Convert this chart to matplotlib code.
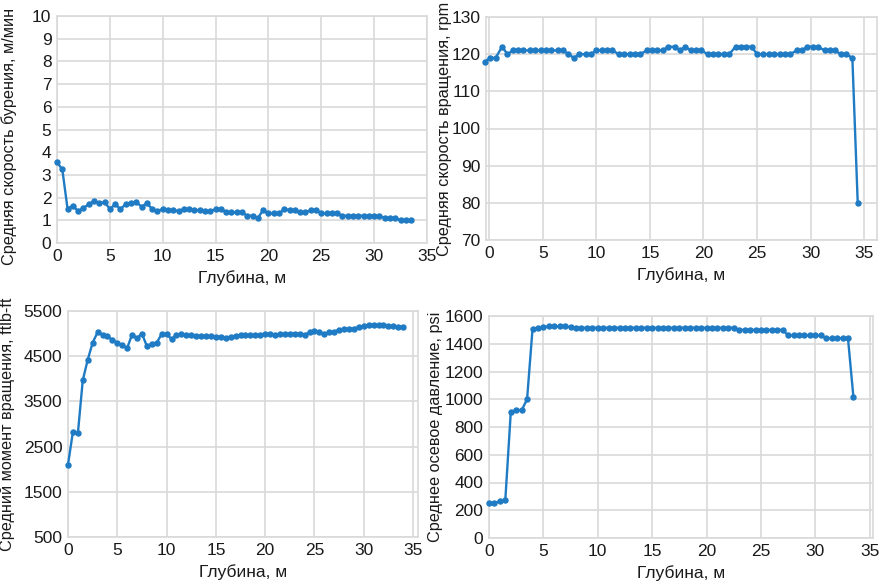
import matplotlib
matplotlib.use('Agg')
import matplotlib.pyplot as plt

plt.rcParams['font.family'] = ['Liberation Sans', 'DejaVu Sans']

# глубина, м
depth = [0.0, 0.5, 1.0, 1.5, 2.0, 2.5, 3.0, 3.5, 4.0, 4.5, 5.0, 5.5, 6.0, 6.5, 7.0, 7.5,
         8.0, 8.5, 9.0, 9.5, 10.0, 10.5, 11.0, 11.5, 12.0, 12.5, 13.0, 13.5, 14.0, 14.5,
         15.0, 15.5, 16.0, 16.5, 17.0, 17.5, 18.0, 18.5, 19.0, 19.5, 20.0, 20.5, 21.0,
         21.5, 22.0, 22.5, 23.0, 23.5, 24.0, 24.5, 25.0, 25.5, 26.0, 26.5, 27.0, 27.5,
         28.0, 28.5, 29.0, 29.5, 30.0, 30.5, 31.0, 31.5, 32.0, 32.5, 33.0, 33.5]
depth_rpm = [-0.4, 0.1, 0.6, 1.2, 1.7, 2.2, 2.7, 3.2, 3.8, 4.3, 4.8, 5.3, 5.8, 6.4, 6.9,
             7.4, 7.9, 8.4, 9.0, 9.5, 10.0, 10.5, 11.0, 11.5, 12.1, 12.6, 13.1, 13.6, 14.1,
             14.7, 15.2, 15.7, 16.2, 16.7, 17.3, 17.8, 18.3, 18.8, 19.3, 19.8, 20.4, 20.9,
             21.4, 21.9, 22.4, 23.0, 23.5, 24.0, 24.5, 25.0, 25.6, 26.1, 26.6, 27.1, 27.6,
             28.1, 28.7, 29.2, 29.7, 30.2, 30.7, 31.3, 31.8, 32.3, 32.8, 33.3, 33.9, 34.4]
depth_tq = depth + [34.0]

rop = [3.55, 3.25, 1.5, 1.65, 1.4, 1.55, 1.7, 1.85, 1.75, 1.8, 1.5, 1.7, 1.5, 1.7, 1.75,
       1.8, 1.6, 1.75, 1.5, 1.4, 1.5, 1.45, 1.45, 1.4, 1.5, 1.5, 1.45, 1.45, 1.4, 1.4,
       1.5, 1.5, 1.35, 1.35, 1.35, 1.35, 1.2, 1.2, 1.1, 1.45, 1.3, 1.3, 1.3, 1.5, 1.45,
       1.45, 1.35, 1.35, 1.45, 1.45, 1.3, 1.3, 1.3, 1.3, 1.2, 1.2, 1.2, 1.2, 1.2, 1.2,
       1.2, 1.2, 1.1, 1.1, 1.1, 1.0, 1.0, 1.0]

rpm = [118, 119, 119, 122, 120, 121, 121, 121, 121, 121, 121, 121, 121, 121, 121, 120,
       119, 120, 120, 120, 121, 121, 121, 121, 120, 120, 120, 120, 120, 121, 121, 121,
       121, 122, 122, 121, 122, 121, 121, 121, 120, 120, 120, 120, 120, 122, 122, 122,
       122, 120, 120, 120, 120, 120, 120, 120, 121, 121, 122, 122, 122, 121, 121, 121,
       120, 120, 119, 80]

torque = [2100, 2830, 2790, 3970, 4420, 4800, 5030, 4970, 4940, 4860, 4800, 4740, 4680,
          4980, 4900, 5000, 4720, 4780, 4800, 4990, 4990, 4880, 4960, 4990, 4970, 4960,
          4950, 4950, 4940, 4940, 4930, 4930, 4910, 4930, 4950, 4960, 4960, 4960, 4970,
          4980, 4990, 4990, 4980, 4990, 4990, 5000, 5000, 5000, 4970, 5030, 5050, 5040,
          4990, 5040, 5040, 5090, 5100, 5110, 5110, 5150, 5170, 5180, 5180, 5180, 5180,
          5170, 5160, 5150, 5150]

wob = [252, 252, 265, 275, 905, 925, 920, 1000, 1505, 1515, 1520, 1525, 1525, 1525,
       1525, 1520, 1515, 1515, 1515, 1515, 1515, 1515, 1515, 1515, 1515, 1515, 1515,
       1515, 1515, 1515, 1515, 1515, 1515, 1515, 1515, 1515, 1515, 1515, 1515, 1515,
       1515, 1515, 1515, 1515, 1515, 1515, 1500, 1500, 1500, 1500, 1500, 1500, 1500,
       1500, 1500, 1460, 1460, 1460, 1460, 1460, 1460, 1460, 1440, 1440, 1440, 1440,
       1440, 1015]

xticks = [0, 5, 10, 15, 20, 25, 30, 35]
W, H = 881, 585
blue = '#1f7bc4'
grey = '#d9d9d9'
txt = '#1a1a1a'

fig = plt.figure(figsize=(W / 100, H / 100), dpi=100)


def make_ax(l, r, t, b):
    return fig.add_axes([l / W, (H - b) / H, (r - l) / W, (b - t) / H])


def style(ax, x, y, xlim, ylim, yticks, ylabel, lab_x, lab_y):
    ax.plot(x, y, color=blue, lw=1.7, marker='o', ms=3.6, clip_on=False, zorder=3)
    ax.set_xlim(*xlim)
    ax.set_ylim(*ylim)
    ax.set_xticks(xticks)
    ax.set_yticks(yticks)
    ax.grid(True, color=grey, lw=1.2)
    ax.set_axisbelow(True)
    for s in ax.spines.values():
        s.set_color(grey)
        s.set_linewidth(1.2)
    ax.tick_params(length=0, labelsize=12.5, labelcolor=txt, pad=4)
    ax.set_xlabel('Глубина, м', fontsize=12.5, color=txt, labelpad=5)
    ax.set_ylabel(ylabel, fontsize=11.7, color=txt)
    ax.yaxis.set_label_coords(lab_x, lab_y)


ax1 = make_ax(57, 427, 16, 243)
style(ax1, depth, rop, (0, 35), (0, 10), range(0, 11),
      'Средняя скорость бурения, м/мин', -0.108, 0.47)

ax2 = make_ax(486, 877, 17, 240)
style(ax2, depth_rpm, rpm, (-0.3, 36.2), (70, 130), range(70, 131, 10),
      'Средняя скорость вращения, rpm', -0.088, 0.5)

ax3 = make_ax(68, 418, 311, 537)
style(ax3, depth_tq, torque, (0, 35.5), (500, 5500), [500, 1500, 2500, 3500, 4500, 5500],
      'Средний момент вращения, ftlb-ft', -0.152, 0.5)

ax4 = make_ax(489, 873, 316, 538)
style(ax4, depth, wob, (0, 35.3), (0, 1600), range(0, 1601, 200),
      'Среднее осевое давление, psi', -0.12, 0.5)

fig.savefig('out.png', dpi=100)
